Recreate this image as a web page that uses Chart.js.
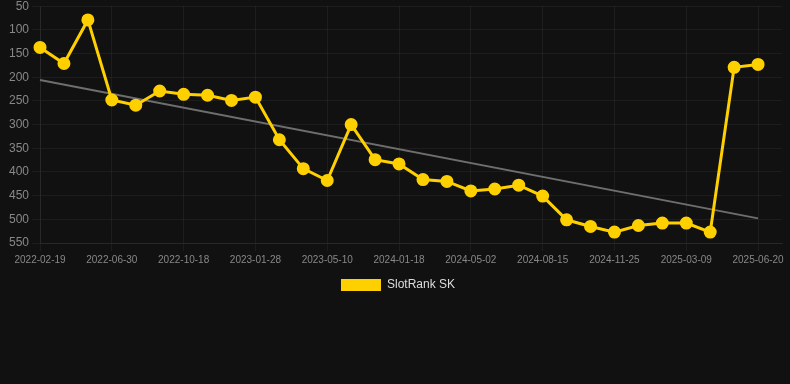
<!DOCTYPE html>
<html>
<head>
<meta charset="utf-8">
<script src="https://cdn.jsdelivr.net/npm/chart.js@4"></script>
<style>
  html, body { margin: 0; padding: 0; background: #111111; overflow: hidden; }
  #wrap { width: 790px; height: 305px; margin-top: -4px; position: relative; }
</style>
</head>
<body>
<div id="wrap"><canvas id="chart"></canvas></div>
<script>
const dates = [
  '2022-02-19', '2022-03-26', '2022-05-01', '2022-06-30', '2022-07-27', '2022-08-22',
  '2022-10-18', '2022-11-12', '2022-12-20', '2023-01-28', '2023-02-28', '2023-04-04',
  '2023-05-10', '2023-08-10', '2023-11-02', '2024-01-18', '2024-02-20', '2024-03-28',
  '2024-05-02', '2024-06-05', '2024-07-10', '2024-08-15', '2024-09-20', '2024-10-22',
  '2024-11-25', '2024-12-28', '2025-02-01', '2025-03-09', '2025-04-12', '2025-05-16',
  '2025-06-20', ''
];
const ranks = [
  137, 171, 79, 248, 259, 229, 236, 238, 249, 242, 332, 393,
  418, 300, 374, 383, 416, 420, 440, 436, 428, 451, 501, 515,
  527, 513, 508, 508, 527, 179, 173, null
];
// trend line: only the two ends, the library joins them
const trend = [206, ...Array(29).fill(null), 498, null];

const gridColor = 'rgba(255,255,255,0.05)';

new Chart(document.getElementById('chart').getContext('2d'), {
  type: 'line',
  data: {
    labels: dates,
    datasets: [
      { label: 'SlotRank SK', data: ranks, borderColor: '#ffd000', backgroundColor: '#ffd000',
        borderWidth: 3, pointRadius: 5, pointHoverRadius: 5, pointBackgroundColor: '#ffd000',
        pointBorderColor: '#ffd000', fill: false, tension: 0 },
      { label: 'trend', data: trend, borderColor: '#6e6e6e', borderWidth: 2, pointRadius: 0,
        spanGaps: true, fill: false },
    ],
  },
  options: {
    responsive: true, maintainAspectRatio: false, animation: false,
    layout: { padding: { left: 6 } },
    plugins: {
      legend: {
        position: 'bottom',
        labels: {
          color: '#dddddd', font: { size: 12 }, boxWidth: 40, boxHeight: 12,
          filter: item => item.text !== 'trend',
          generateLabels: chart => Chart.defaults.plugins.legend.labels.generateLabels(chart)
            .map(l => ({ ...l, lineWidth: 0 })),
        },
      },
      tooltip: { enabled: false },
    },
    scales: {
      x: {
        grid: { color: gridColor },
        border: { color: gridColor },
        ticks: {
          color: '#888888', font: { size: 10 }, autoSkip: false, maxRotation: 0,
          callback: function (v, i) { return i % 3 === 0 ? this.getLabelForValue(v) : null; },
        },
      },
      y: {
        reverse: true, min: 50, max: 550,
        grid: { color: gridColor },
        border: { color: gridColor },
        ticks: { color: '#888888', font: { size: 12 }, stepSize: 50 },
      },
    },
  },
});
</script>
</body>
</html>
